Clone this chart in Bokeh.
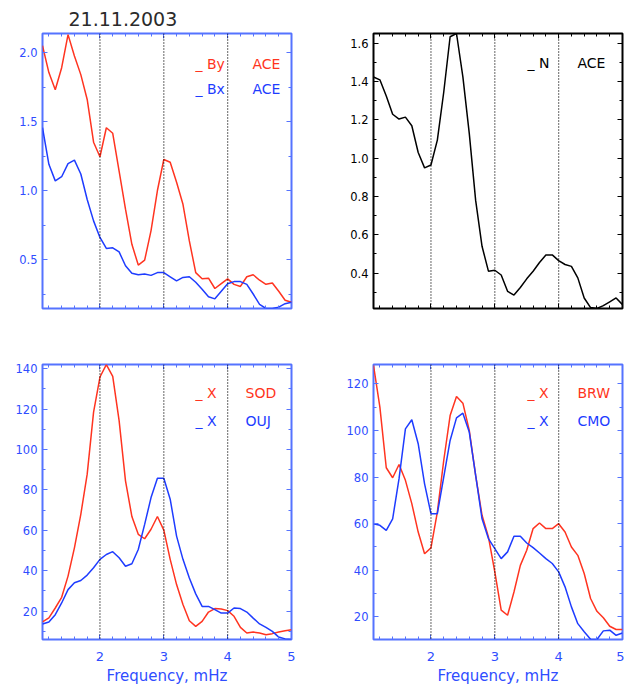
from bokeh.plotting import figure
from bokeh.layouts import column, row
from bokeh.models import FixedTicker, LinearAxis, Range1d, Span, Label
from bokeh.embed import file_html
from bokeh.resources import INLINE

# ---------------- data ----------------
freq = [1.1, 1.2, 1.3, 1.4, 1.5, 1.6, 1.7, 1.8, 1.9, 2.0,
        2.1, 2.2, 2.3, 2.4, 2.5, 2.6, 2.7, 2.8, 2.9, 3.0,
        3.1, 3.2, 3.3, 3.4, 3.5, 3.6, 3.7, 3.8, 3.9, 4.0,
        4.1, 4.2, 4.3, 4.4, 4.5, 4.6, 4.7, 4.8, 4.9, 5.0]

by_ace = [2.05, 1.855, 1.73, 1.89, 2.13, 1.975, 1.84, 1.66, 1.35, 1.245,
          1.455, 1.415, 1.14, 0.865, 0.61, 0.46, 0.495, 0.71, 1.0, 1.225,
          1.205, 1.06, 0.90, 0.635, 0.405, 0.36, 0.365, 0.29, 0.325, 0.36,
          0.32, 0.305, 0.375, 0.39, 0.35, 0.32, 0.33, 0.27, 0.205, 0.19]
bx_ace = [1.455, 1.19, 1.07, 1.10, 1.195, 1.22, 1.12, 0.935, 0.78, 0.66,
          0.58, 0.585, 0.555, 0.455, 0.40, 0.39, 0.395, 0.385, 0.405, 0.405,
          0.375, 0.345, 0.37, 0.375, 0.335, 0.285, 0.23, 0.215, 0.27, 0.325,
          0.34, 0.34, 0.32, 0.25, 0.175, 0.145, 0.145, 0.155, 0.18, 0.19]
n_ace = [1.425, 1.41, 1.325, 1.23, 1.205, 1.215, 1.17, 1.03, 0.95, 0.965,
         1.095, 1.345, 1.635, 1.652, 1.425, 1.13, 0.78, 0.54, 0.41, 0.415,
         0.39, 0.305, 0.285, 0.325, 0.37, 0.41, 0.455, 0.495, 0.495, 0.465,
         0.445, 0.435, 0.375, 0.27, 0.22, 0.215, 0.23, 0.25, 0.27, 0.235]
x_sod = [14.6, 16.6, 21.5, 26.8, 37.3, 51.3, 67.9, 87.8, 118.5, 135.9,
         142.0, 136.2, 114.3, 84.5, 66.8, 58.0, 55.8, 60.5, 66.8, 60.1,
         45.6, 33.1, 23.2, 15.2, 12.4, 14.9, 19.5, 21.2, 21.0, 20.2,
         17.4, 11.9, 9.1, 9.6, 9.1, 8.3, 8.8, 9.6, 10.2, 10.7]
x_ouj = [13.6, 14.6, 18.2, 24.0, 30.6, 34.0, 35.1, 37.8, 41.4, 45.6,
         48.0, 49.4, 46.4, 42.2, 43.4, 50.5, 62.9, 76.2, 85.8, 85.8,
         75.4, 57.1, 45.6, 36.4, 28.5, 22.3, 22.3, 20.7, 19.0, 19.0,
         21.5, 21.2, 19.5, 16.5, 13.6, 11.9, 9.9, 7.1, 6.2, 5.9]
x_brw = [127.9, 110.0, 84.0, 79.7, 85.4, 78.6, 68.6, 56.4, 47.1, 49.6,
         65.0, 87.1, 106.4, 114.6, 111.7, 100.0, 80.7, 63.6, 54.3, 39.3,
         22.9, 20.7, 30.7, 42.1, 48.6, 57.9, 60.3, 57.9, 57.9, 60.0,
         56.4, 50.0, 46.4, 38.6, 27.9, 22.4, 19.6, 16.0, 14.6, 14.6]
x_cmo = [60.0, 59.3, 57.1, 62.1, 79.3, 100.7, 104.6, 94.3, 77.1, 64.3,
         64.3, 80.0, 95.7, 105.4, 107.4, 99.3, 80.7, 62.1, 53.6, 49.3,
         45.0, 47.9, 54.6, 54.6, 51.7, 49.7, 47.4, 45.0, 42.9, 39.3,
         32.9, 24.3, 17.1, 13.6, 10.4, 10.3, 14.0, 14.3, 12.1, 13.1]

x_major = [2, 3, 4, 5]
x_minor = [1.2, 1.4, 1.6, 1.8, 2.2, 2.4, 2.6, 2.8, 3.2, 3.4, 3.6, 3.8,
           4.2, 4.4, 4.6, 4.8]
date_title = "21.11.2003"
x_title = "Frequency, mHz"

RED = "#ff3420"
BLUE = "#1e3cff"
AXBLUE = "#5573ff"
LBLUE = "#2f4dff"
FONT = "DejaVu Sans"
XR = (1.1, 5.0)


def style_axis(ax, axc):
    ax.axis_line_color = None
    ax.major_tick_in = 5
    ax.major_tick_out = 0
    ax.minor_tick_in = 3
    ax.minor_tick_out = 0
    ax.major_tick_line_color = axc
    ax.minor_tick_line_color = axc
    ax.major_tick_line_width = 1
    ax.minor_tick_line_width = 1


def hide_labels(ax):
    ax.major_label_text_color = None
    ax.major_label_text_font_size = "1px"
    ax.major_label_standoff = 0


def panel(width, height, bl, br, bt, bb, yr, yticks, yminor, axc, labc,
          fmt, xlabels):
    p = figure(width=width, height=height, x_range=Range1d(*XR),
               y_range=Range1d(*yr), output_backend="svg",
               toolbar_location=None, min_border_left=bl,
               min_border_right=br, min_border_top=bt, min_border_bottom=bb)
    p.grid.visible = False
    p.background_fill_color = "white"
    p.border_fill_color = "white"
    p.outline_line_color = axc
    p.outline_line_width = 2
    p.outline_line_alpha = 1.0
    xt = FixedTicker(ticks=x_major, minor_ticks=x_minor)
    yt = FixedTicker(ticks=yticks, minor_ticks=yminor)
    top = LinearAxis(ticker=xt)
    right = LinearAxis(ticker=yt)
    p.add_layout(top, "above")
    p.add_layout(right, "right")
    bottom = p.below[0]
    left = p.left[0]
    bottom.ticker = xt
    left.ticker = yt
    for ax in (top, right, bottom, left):
        style_axis(ax, axc)
    hide_labels(top)
    hide_labels(right)
    left.major_label_text_font = FONT
    left.major_label_text_color = labc
    left.major_label_text_font_size = "11.5px"
    left.major_label_standoff = 5
    left.major_label_overrides = {t: fmt.format(t) for t in yticks}
    if xlabels:
        bottom.major_label_text_font = FONT
        bottom.major_label_text_color = labc
        bottom.major_label_text_font_size = "13px"
        bottom.major_label_standoff = 12
        bottom.axis_label = x_title
        bottom.axis_label_text_font = FONT
        bottom.axis_label_text_font_size = "15px"
        bottom.axis_label_text_font_style = "normal"
        bottom.axis_label_text_color = labc
        bottom.axis_label_standoff = 3
    else:
        hide_labels(bottom)
    for loc in (2, 3, 4):
        p.add_layout(Span(location=loc, dimension="height", line_color="black",
                          line_dash="1 2", line_width=1.2))
    return p


def legend(p, frame_px, page_xy, text, color):
    # frame_px = (left, right, top, bottom) pixel box of the frame
    l, r, t, b = frame_px
    px, py = page_xy
    x = XR[0] + (px - l) / (r - l) * (XR[1] - XR[0])
    y0, y1 = p.y_range.start, p.y_range.end
    y = y1 - (py - t) / (b - t) * (y1 - y0)
    p.add_layout(Label(x=x, y=y, text=text, text_color=color,
                       text_font=FONT, text_font_size="14px",
                       text_baseline="middle", text_align="left"))


# top-left
p1 = panel(328, 338, 42, 37, 33, 30, (0.145, 2.138), [0.5, 1.0, 1.5, 2.0],
           [0.25, 0.75, 1.25, 1.75], AXBLUE, LBLUE, "{:.1f}", False)
p1.line(freq, by_ace, line_color=RED, line_width=1.5)
p1.line(freq, bx_ace, line_color=BLUE, line_width=1.5)
f1 = (42, 291, 33, 308)
legend(p1, f1, (195, 63), "_ By", RED)
legend(p1, f1, (252, 63), "ACE", RED)
legend(p1, f1, (195, 88), "_ Bx", BLUE)
legend(p1, f1, (252, 88), "ACE", BLUE)
p1.title.text = date_title
p1.title.align = "left"
p1.title.offset = 26
p1.title.standoff = 16
p1.title.text_font = FONT
p1.title.text_font_size = "19px"
p1.title.text_font_style = "normal"
p1.title.text_color = "#2b2b2b"

# top-right
p2 = panel(296, 338, 45, 2, 33, 30, (0.215, 1.652),
           [0.4, 0.6, 0.8, 1.0, 1.2, 1.4, 1.6],
           [0.3, 0.5, 0.7, 0.9, 1.1, 1.3, 1.5], "black", "black", "{:.1f}", False)
p2.line(freq, n_ace, line_color="black", line_width=1.5)
f2 = (373, 622, 33, 308)
legend(p2, f2, (527, 62), "_ N", "black")
legend(p2, f2, (577, 62), "ACE", "black")

# bottom-left
p3 = panel(328, 349, 42, 37, 26, 48, (5.9, 142.1),
           [20, 40, 60, 80, 100, 120, 140],
           [10, 30, 50, 70, 90, 110, 130], AXBLUE, LBLUE, "{:d}", True)
p3.line(freq, x_sod, line_color=RED, line_width=1.5)
p3.line(freq, x_ouj, line_color=BLUE, line_width=1.5)
f3 = (42, 291, 364, 639)
legend(p3, f3, (195, 392), "_ X", RED)
legend(p3, f3, (245, 392), "SOD", RED)
legend(p3, f3, (195, 420), "_ X", BLUE)
legend(p3, f3, (245, 420), "OUJ", BLUE)

# bottom-right
p4 = panel(296, 349, 45, 2, 26, 48, (10.3, 128.3),
           [20, 40, 60, 80, 100, 120],
           [30, 50, 70, 90, 110], AXBLUE, LBLUE, "{:d}", True)
p4.line(freq, x_brw, line_color=RED, line_width=1.5)
p4.line(freq, x_cmo, line_color=BLUE, line_width=1.5)
f4 = (373, 622, 364, 639)
legend(p4, f4, (527, 392), "_ X", RED)
legend(p4, f4, (577, 392), "BRW", RED)
legend(p4, f4, (527, 420), "_ X", BLUE)
legend(p4, f4, (577, 420), "CMO", BLUE)

layout = column(row(p1, p2), row(p3, p4))
open("out.html", "w").write(file_html(layout, INLINE))
